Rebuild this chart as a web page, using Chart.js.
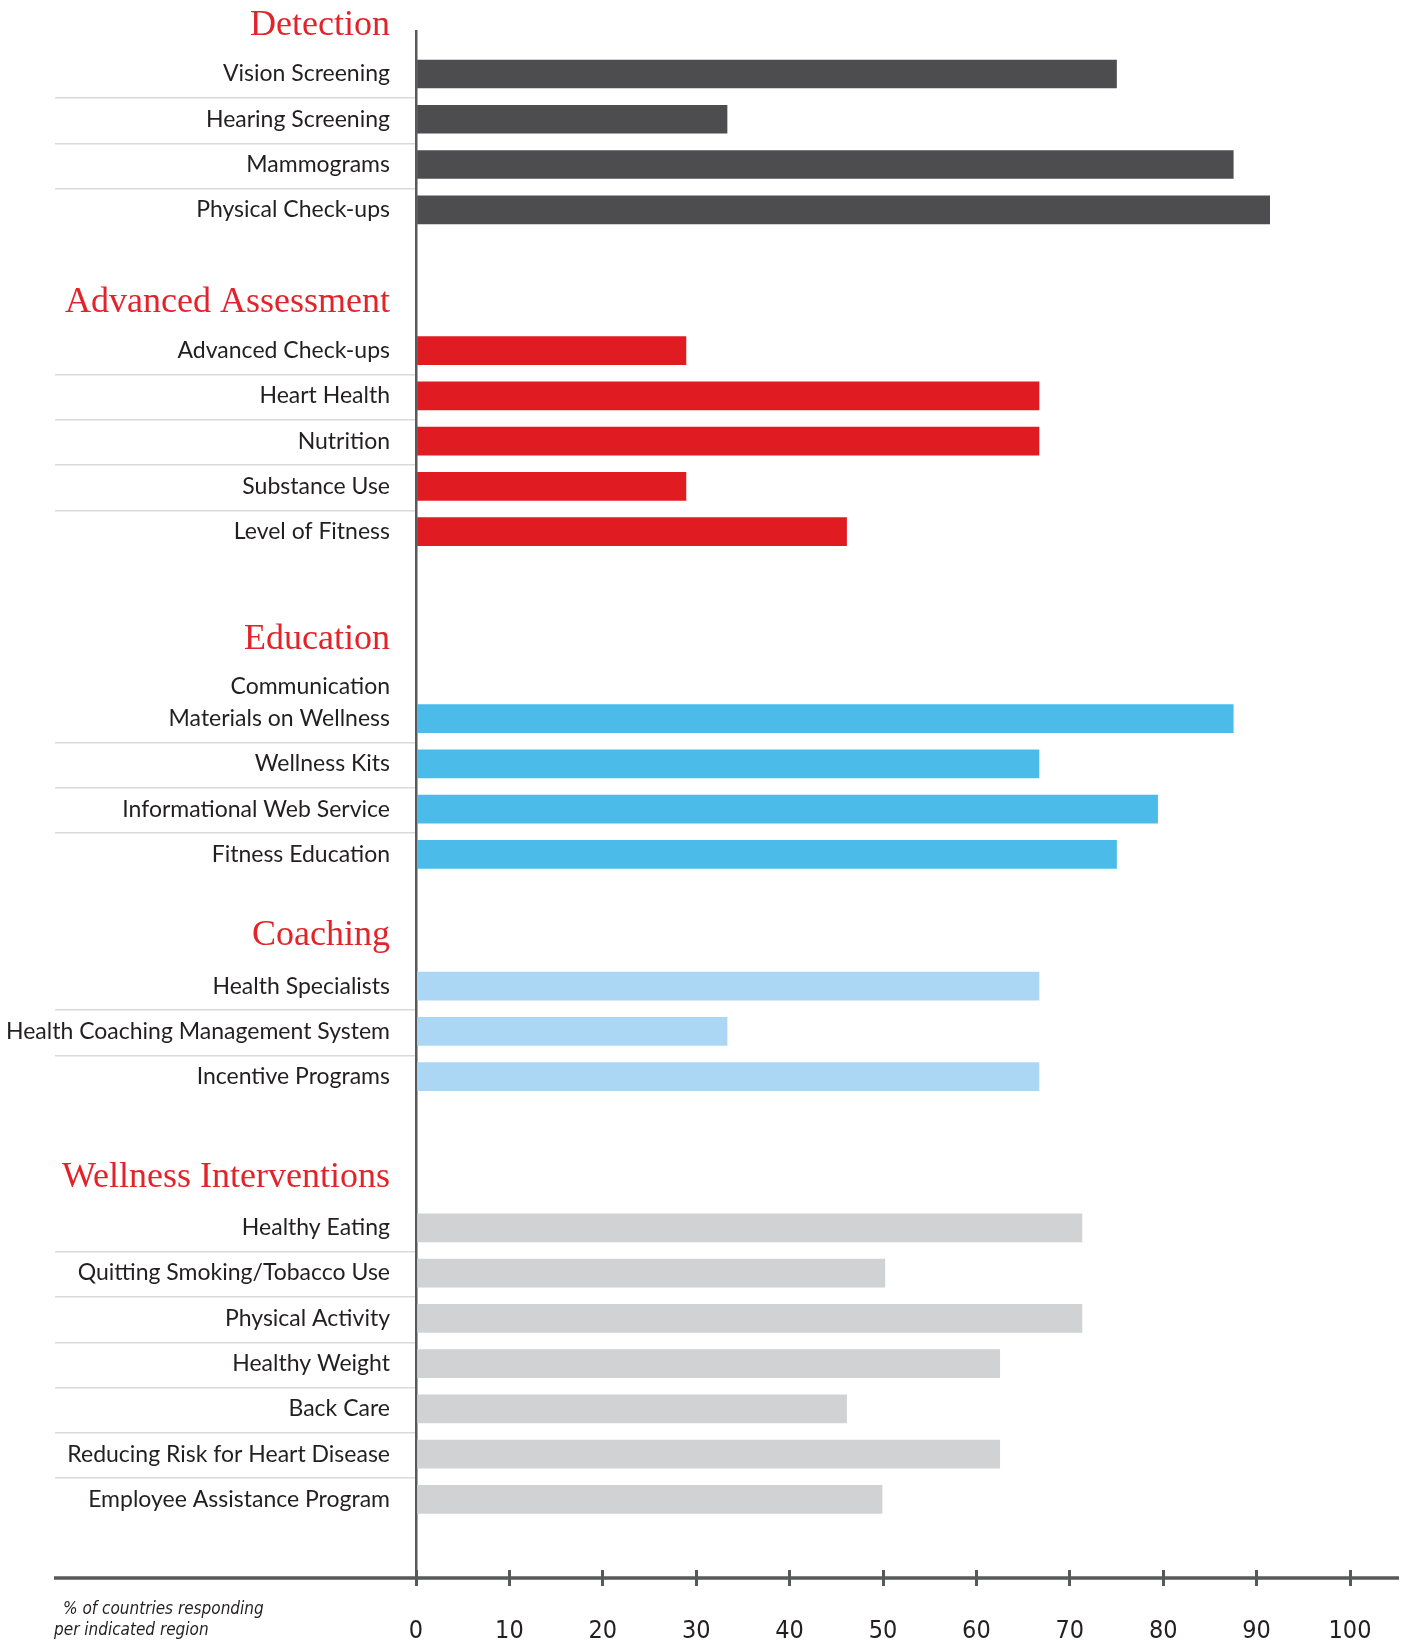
<!DOCTYPE html>
<html>
<head>
<meta charset="utf-8">
<script src="https://cdn.jsdelivr.net/npm/chart.js@4.4.0/dist/chart.umd.min.js"></script>
<style>
  body { margin: 0; background: #fff; }
  #wrap { position: relative; width: 1404px; height: 1642px; }
  .note { position: absolute; font: italic 17px 'Liberation Sans Narrow', 'DejaVu Sans Condensed', sans-serif;
          color: #231f20; line-height: 21px; white-space: nowrap; }
</style>
</head>
<body>
<div id="wrap">
  <canvas id="chart" width="1404" height="1642"></canvas>
  <div class="note" style="left:63px; top:1598px">% of countries responding</div>
  <div class="note" style="left:54px; top:1619px">per indicated region</div>
</div>
<script>
// data (% of countries)
const groupNames = ['Detection', 'Advanced Assessment', 'Education', 'Coaching', 'Wellness Interventions'];

const detectionLabels = ['Vision Screening', 'Hearing Screening', 'Mammograms', 'Physical Check-ups'];
const detectionValues = [75, 33.3, 87.5, 91.4];

const assessmentLabels = ['Advanced Check-ups', 'Heart Health', 'Nutrition', 'Substance Use', 'Level of Fitness'];
const assessmentValues = [28.9, 66.7, 66.7, 28.9, 46.1];

const educationLabels = [['Communication', 'Materials on Wellness'], 'Wellness Kits', 'Informational Web Service', 'Fitness Education'];
const educationValues = [87.5, 66.7, 79.4, 75];

const coachingLabels = ['Health Specialists', 'Health Coaching Management System', 'Incentive Programs'];
const coachingValues = [66.7, 33.3, 66.7];

const wellnessLabels = ['Healthy Eating', 'Quitting Smoking/Tobacco Use', 'Physical Activity', 'Healthy Weight',
  'Back Care', 'Reducing Risk for Heart Disease', 'Employee Assistance Program'];
const wellnessValues = [71.3, 50.2, 71.3, 62.5, 46.1, 62.5, 49.9];

const xTicks = [0, 10, 20, 30, 40, 50, 60, 70, 80, 90, 100];

// layout (rows on the y scale) and styles
const groupColors = ['#4d4d4f', '#e11b22', '#4bbbea', '#abd7f5', '#d1d2d4'];
const headerRow = [-0.11, 6.01, 13.44, 19.99, 25.33];
const firstRow = [0.95, 7.06, 15.19, 21.10, 26.44];
const lineGap = 0.71;
const red = '#e2232a';
const ink = '#231f20';
const axisGrey = '#58595b';
const labelFont = { family: 'Lato', size: 23 };
const headFont = { family: "'Liberation Serif'", size: 36 };
const narrow = "'Liberation Sans Narrow', 'DejaVu Sans Condensed', sans-serif";

const groups = [
  [detectionLabels, detectionValues],
  [assessmentLabels, assessmentValues],
  [educationLabels, educationValues],
  [coachingLabels, coachingValues],
  [wellnessLabels, wellnessValues]
];

let tickDefs = [];
let sepRows = [];
let datasets = [];
groups.forEach(([labels, values], g) => {
  tickDefs.push({ value: headerRow[g], label: groupNames[g], head: true });
  let pts = [];
  labels.forEach((lab, i) => {
    let row = firstRow[g] + i;
    if (Array.isArray(lab)) {
      tickDefs.push({ value: row - lineGap, label: lab[0] });
      tickDefs.push({ value: row, label: lab[1] });
    } else {
      tickDefs.push({ value: row, label: lab });
    }
    if (i > 0) sepRows.push(row - 0.47);
    pts.push({ x: values[i], y: row });
  });
  datasets.push({
    label: groupNames[g],
    data: pts,
    backgroundColor: groupColors[g],
    barThickness: 28,
    grouped: false,
    xAxisID: 'x',
    yAxisID: 'y'
  });
});

// long horizontal axis line, running under the label column too
const axisLine = {
  id: 'axisLine',
  afterDraw(chart) {
    const { ctx, scales: { x } } = chart;
    ctx.save();
    ctx.strokeStyle = axisGrey;
    ctx.lineWidth = 3.5;
    ctx.beginPath();
    ctx.moveTo(54, x.top + 8);
    ctx.lineTo(1399, x.top + 8);
    ctx.stroke();
    ctx.restore();
  }
};

// y scales: fixed width, no extra vertical padding from the labels
function fitY(width) {
  return s => {
    s.width = width;
    s.paddingTop = 0;
    s.paddingBottom = 0;
  };
}

new Chart(document.getElementById('chart'), {
  type: 'bar',
  data: { datasets: datasets },
  plugins: [axisLine],
  options: {
    indexAxis: 'y',
    responsive: false,
    animation: false,
    devicePixelRatio: 1,
    layout: { padding: { top: 31, right: 54, left: 0, bottom: 0 } },
    plugins: { legend: { display: false }, tooltip: { enabled: false } },
    scales: {
      x: {
        type: 'linear',
        position: 'bottom',
        min: 0,
        max: 100,
        afterBuildTicks: s => { s.ticks = xTicks.map(v => ({ value: v })); },
        afterFit: s => { s.height = 72; },
        border: { display: false },
        grid: { drawOnChartArea: false, drawTicks: true, tickLength: 16, lineWidth: 3, color: axisGrey },
        ticks: { padding: 30, color: ink, font: { family: narrow, size: 25 } }
      },
      y: {
        type: 'linear',
        axis: 'y',
        position: 'left',
        reverse: true,
        offset: false,
        min: 0,
        max: 34,
        weight: 1,
        afterBuildTicks: s => { s.ticks = tickDefs.map(t => ({ value: t.value })); },
        afterFit: fitY(416),
        border: { display: true, color: axisGrey, width: 2.5 },
        grid: { offset: false, drawOnChartArea: false, drawTicks: false },
        ticks: {
          autoSkip: false,
          padding: 26,
          callback: (v, i) => tickDefs[i].label,
          color: c => (tickDefs[c.index] && tickDefs[c.index].head) ? red : ink,
          font: c => (tickDefs[c.index] && tickDefs[c.index].head) ? headFont : labelFont
        }
      },
      // thin separators between the rows, drawn as long tick marks
      ys: {
        type: 'linear',
        axis: 'y',
        position: 'left',
        reverse: true,
        offset: false,
        min: 0,
        max: 34,
        weight: 0,
        afterBuildTicks: s => { s.ticks = sepRows.map(v => ({ value: v })); },
        afterFit: fitY(0),
        border: { display: false },
        grid: { offset: false, drawOnChartArea: false, drawTicks: true, tickLength: 361, lineWidth: 1.5, color: '#d9d9d9' },
        ticks: { display: false }
      }
    }
  }
});
</script>
</body>
</html>
